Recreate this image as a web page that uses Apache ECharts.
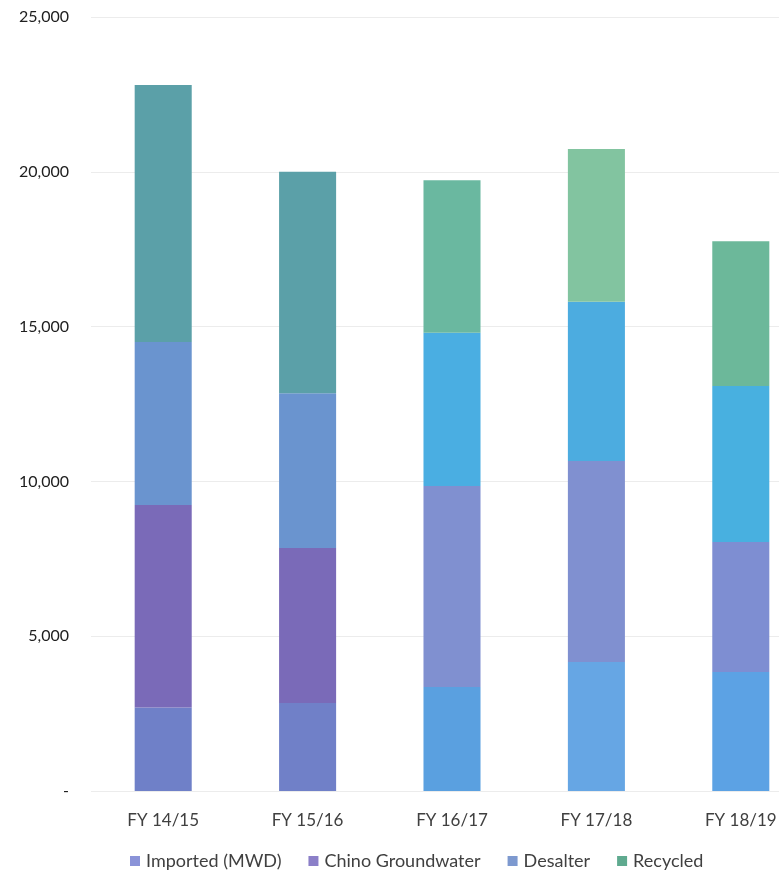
<!DOCTYPE html>
<html><head><meta charset="utf-8">
<script src="https://cdn.jsdelivr.net/npm/echarts@6/dist/echarts.min.js"></script>
<style>html,body{margin:0;padding:0;background:#fff;overflow:hidden}#c{width:813px;height:875px}</style>
</head><body><div id="c"></div>
<script>
const categories = ['FY 14/15','FY 15/16','FY 16/17','FY 17/18','FY 18/19'];
const seriesNames = ['Imported (MWD)','Chino Groundwater','Desalter','Recycled'];
const imported = [2700, 2840, 3360, 4170, 3840];
const chino = [6540, 5010, 6490, 6490, 4200];
const desalter = [5260, 5000, 4950, 5140, 5040];
const recycled = [8300, 7150, 4930, 4940, 4680];
const yTicks = [0, 5000, 10000, 15000, 20000, 25000];

const legendColors = ['#8a93d8','#8b7fc8','#7d99cf','#5faa8f'];
const barColors = [
  ['#6f80c8','#7080c8','#5aa0e0','#66a6e4','#5ca2e4'],
  ['#7a6ab8','#7a6ab8','#8090d0','#8090d0','#7e8ed2'],
  ['#6a94cf','#6a94cf','#4aaee2','#4cace0','#48b0e0'],
  ['#5ba0a8','#5ba0a8','#6ab8a0','#82c4a0','#6cb89a']
];
const values = [imported, chino, desalter, recycled];

const chart = echarts.init(document.getElementById('c'));
chart.setOption({
  animation: false,
  backgroundColor: '#fff',
  grid: { left: 91, top: 17, width: 722, height: 774 },
  xAxis: {
    type: 'category', data: categories,
    axisLine: { show: false }, axisTick: { show: false },
    axisLabel: { color: '#404040', fontSize: 17, fontFamily: 'Lato', margin: 21 }
  },
  yAxis: {
    type: 'value', min: yTicks[0], max: yTicks[yTicks.length - 1], interval: 5000,
    axisLine: { show: false }, axisTick: { show: false },
    splitLine: { lineStyle: { color: '#ececec', width: 1 } },
    axisLabel: {
      color: '#202020', fontSize: 16, fontFamily: 'Lato', margin: 22,
      formatter: v => v === 0 ? '-' : v.toLocaleString('en-US')
    }
  },
  legend: {
    left: 125, top: 847, itemWidth: 10, itemHeight: 10, itemGap: 27,
    icon: 'rect',
    textStyle: { color: '#404040', fontSize: 18, fontFamily: 'Lato', padding: [0,0,0,1] },
    data: seriesNames
  },
  series: seriesNames.map((name, s) => ({
    name, type: 'bar', stack: 'total', barWidth: '39.5%',
    itemStyle: { color: legendColors[s] },
    data: values[s].map((v, i) => ({ value: v, itemStyle: { color: barColors[s][i] } }))
  }))
});
</script></body></html>
